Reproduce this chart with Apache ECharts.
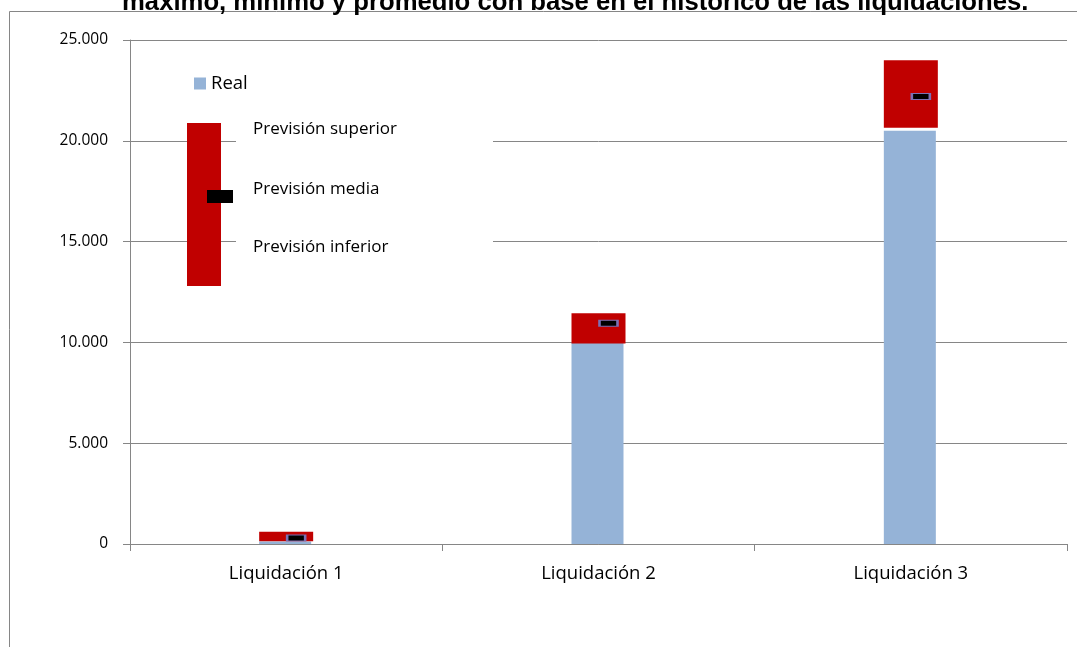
<!DOCTYPE html>
<html>
<head>
<meta charset="utf-8">
<title>Liquidaciones</title>
<script src="https://cdn.jsdelivr.net/npm/echarts@6/dist/echarts.min.js"></script>
<style>
    html,body{margin:0;padding:0;background:#fff;}
    #chart{width:1077px;height:647px;}
</style>
</head>
<body>
<div id="chart"></div>
<script>
// datos
var categorias=['Liquidación 1','Liquidación 2','Liquidación 3'];
var real=[120,10000,20500];
var prevInferior=[140,9950,20650];
var prevSuperior=[610,11450,24000];
var prevMedia=[300,10950,22200];

var fuente='Open Sans';
var gris='#868686';

// tramo rojo = superior - inferior
var rango=[];
for(var i=0;i<categorias.length;i++){
    rango.push(prevSuperior[i]-prevInferior[i]);
}

function miles(v){
    return String(v).replace(/\B(?=(\d{3})+(?!\d))/g,'.');
}

var chart=echarts.init(document.getElementById('chart'));
var option={
    animation:false,
    title:{
        text:'máximo, mínimo y promedio con base en el histórico de las liquidaciones.',
        left:117,
        top:-15,
        textStyle:{
            fontFamily:'Liberation Sans',
            fontWeight:'bold',
            fontSize:25.7,
            color:'#000'
        }
    },
    legend:{
        data:['Real'],
        left:189,
        top:69,
        icon:'rect',
        itemWidth:12,
        itemHeight:12,
        itemGap:4,
        textStyle:{fontFamily:fuente,fontSize:18.5,color:'#000'}
    },
    grid:{left:130,right:10,top:40,bottom:103},
    xAxis:{
        type:'category',
        data:categorias,
        axisLine:{lineStyle:{color:gris,width:1}},
        axisTick:{show:true,length:7,lineStyle:{color:gris}},
        axisLabel:{color:'#000',fontFamily:fuente,fontSize:18.5,margin:20}
    },
    yAxis:{
        type:'value',
        min:0,
        max:25000,
        interval:5000,
        axisLine:{show:true,lineStyle:{color:gris,width:1}},
        axisTick:{show:true,length:7,lineStyle:{color:gris}},
        splitLine:{lineStyle:{color:gris,width:1}},
        axisLabel:{color:'#000',fontFamily:fuente,fontSize:15.5,margin:22,formatter:miles}
    },
    graphic:[
        // marco exterior
        {type:'rect',z:-10,shape:{x:9.5,y:11.5,width:1200,height:800},style:{fill:null,stroke:gris,lineWidth:1}},
        // leyenda de la previsión
        {type:'rect',z:100,shape:{x:236,y:112,width:257,height:158},style:{fill:'#fff'}},
        {type:'rect',z:101,shape:{x:187,y:123,width:34,height:163},style:{fill:'#C00000'}},
        {type:'rect',z:102,shape:{x:207,y:190,width:26,height:13},style:{fill:'#000'}},
        {type:'text',z:101,left:253,top:121,style:{text:'Previsión superior',font:'17px "Open Sans"',fill:'#000'}},
        {type:'text',z:101,left:253,top:181,style:{text:'Previsión media',font:'17px "Open Sans"',fill:'#000'}},
        {type:'text',z:101,left:253,top:239,style:{text:'Previsión inferior',font:'17px "Open Sans"',fill:'#000'}}
    ],
    series:[
        {
            name:'Real',
            type:'bar',
            barWidth:52,
            data:real,
            itemStyle:{color:'#95B3D7'}
        },
        {
            name:'inferior',
            type:'bar',
            stack:'prev',
            barWidth:54,
            data:prevInferior,
            itemStyle:{color:'rgba(0,0,0,0)'},
            silent:true
        },
        {
            name:'Previsión',
            type:'bar',
            stack:'prev',
            barWidth:54,
            barGap:'-100%',
            data:rango,
            itemStyle:{color:'#C00000'}
        },
        {
            name:'Previsión media',
            type:'scatter',
            data:prevMedia,
            symbol:'rect',
            symbolSize:[18,6],
            symbolOffset:[10,0],
            z:5,
            itemStyle:{color:'#000',borderColor:'#7b70b4',borderWidth:1.5,opacity:1}
        }
    ]
};
chart.setOption(option);
</script>
</body>
</html>
